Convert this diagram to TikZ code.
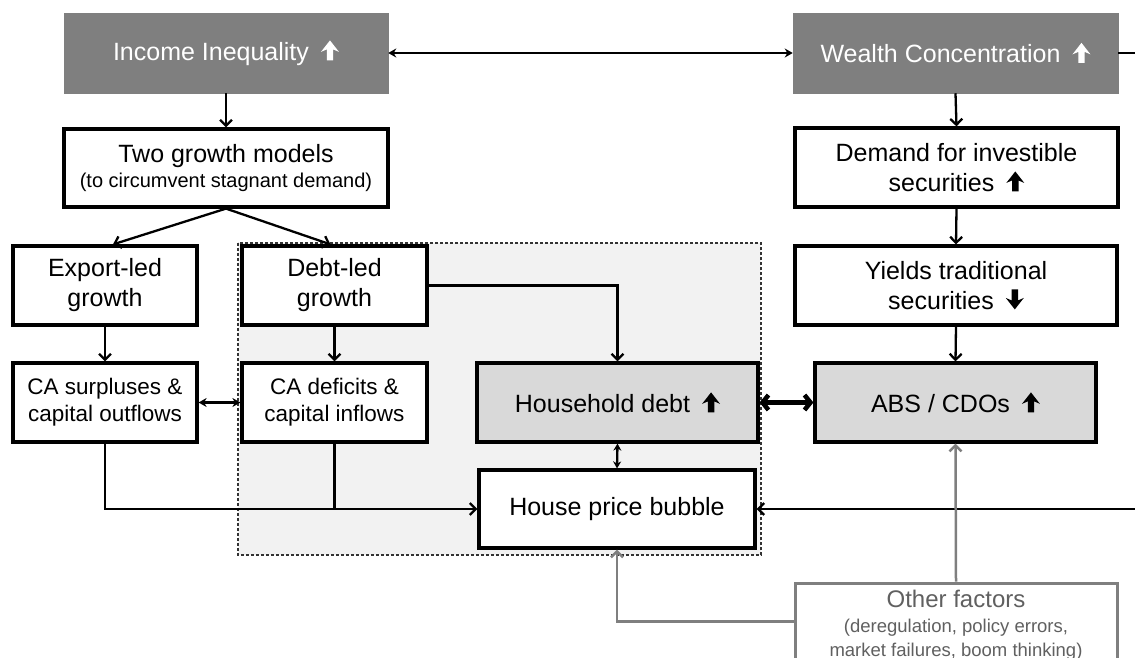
\documentclass[tikz,border=0pt]{standalone}
\usepackage{fontspec}
\setmainfont{Liberation Sans}
\usetikzlibrary{arrows.meta,calc}
\definecolor{darkbox}{HTML}{7F7F7F}
\definecolor{lightbox}{HTML}{D9D9D9}
\definecolor{panel}{HTML}{F2F2F2}
\definecolor{othgray}{HTML}{7F7F7F}
\definecolor{othtext}{HTML}{606060}
\newcommand\upicon[1]{\hspace{12pt}\tikz[baseline=-2pt,x=1pt,y=1pt]\fill[#1] (-3.2,-2) -- (-3.2,9) -- (-9,6.5) -- (0,18) -- (9,6.5) -- (3.2,9) -- (3.2,-2) -- cycle;}
\newcommand\downicon[1]{\hspace{12pt}\tikz[baseline=-2pt,x=1pt,y=1pt]\fill[#1] (-3.2,18) -- (-3.2,7) -- (-9,9.5) -- (0,-2) -- (9,9.5) -- (3.2,7) -- (3.2,18) -- cycle;}
\begin{document}
\begin{tikzpicture}[x=1pt,y=-1pt,
  box/.style={draw=black, line width=3.2pt, fill=white, align=center, inner sep=2pt,
    font=\fontsize{25}{30}\selectfont},
  topbox/.style={box, draw=darkbox, fill=darkbox, text=white, line width=0.5pt,
    minimum width=324pt, minimum height=80pt},
  greybox/.style={box, fill=lightbox},
  othbox/.style={draw=othgray, line width=3pt, fill=white},
  arr/.style={line width=2.3pt, -{Straight Barb[length=6pt,width=12pt,line width=2.3pt]}},
  line/.style={line width=2.3pt},
  darr/.style={line width=2.3pt, {Stealth[length=8pt,width=9pt]}-{Stealth[length=8pt,width=9pt]}},
  bigdarr/.style={line width=4.5pt, {Straight Barb[length=6pt,width=15pt,line width=4.5pt]}-{Straight Barb[length=6pt,width=15pt,line width=4.5pt]}},
  garr/.style={draw=othgray, line width=2.5pt, -{Straight Barb[length=6pt,width=12pt,line width=2.5pt]}}]
\useasboundingbox (0,0) rectangle (1135,658);
% shaded panel
\draw[dash pattern=on 3pt off 2pt, draw=black!80, line width=1.3pt, fill=panel] (238,243) rectangle (761,555);
% top row
\node[topbox] (inc) at (226,53) {Income Inequality\upicon{white}};
\node[topbox, minimum width=325pt] (wea) at (955.5,53) {Wealth Concentration\upicon{white}};
% second row
\node[box, minimum width=324pt, minimum height=78pt] (two) at (226,168)
  {Two growth models\\[-5pt]{\fontsize{20}{24}\selectfont (to circumvent stagnant demand)}};
\node[box, minimum width=323pt, minimum height=79pt] (dem) at (956.5,167.5)
  {Demand for investible\\securities\upicon{black}};
% third row
\node[box, minimum width=184pt, minimum height=79pt] (exp) at (105,285.5) {Export-led\\growth};
\node[box, minimum width=185pt, minimum height=79pt] (dbt) at (334.5,285.5) {Debt-led\\growth};
\node[box, minimum width=322pt, minimum height=79pt] (yld) at (956,285.5) {Yields traditional\\securities\downicon{black}};
% fourth row
\node[box, minimum width=184pt, minimum height=79pt, font=\fontsize{22.5}{27}\selectfont] (cas) at (105,402.5) {CA surpluses \&\\capital outflows};
\node[box, minimum width=185pt, minimum height=79pt, font=\fontsize{22.5}{27}\selectfont] (cad) at (334.5,402.5) {CA deficits \&\\capital inflows};
\node[greybox, minimum width=281pt, minimum height=79pt] (hh) at (617.5,402.5) {Household debt\upicon{black}};
\node[greybox, minimum width=281pt, minimum height=79pt] (abs) at (955.5,402.5) {ABS / CDOs\upicon{black}};
% fifth row
\node[box, minimum width=276pt, minimum height=78pt] (hpb) at (617,509) {House price bubble};
% other factors
\node[othbox, minimum width=322pt, minimum height=130pt] (oth) at (956,648) {};
\node[anchor=north, align=center, text=othtext, inner sep=0pt, font=\fontsize{24}{28}\selectfont] (othlabel) at (956,590)
  {Other factors\\[-3pt]{\fontsize{18.5}{22}\selectfont (deregulation, policy errors,}\\[-4pt]{\fontsize{18.5}{22}\selectfont market failures, boom thinking)}};
\coordinate (othW) at ($(oth.north west)+(0,40)$);
\coordinate (wedge) at (1135,53);
\coordinate (redge) at (1135,509);
% connectors
\draw[darr] (inc.east) -- (wea.west);
\draw[line] (wea.east) -- (wedge);
\draw[arr] (inc.south) -- (two.north);
\draw[arr] (wea.south) -- (dem.north);
\draw[arr] (dem.south) -- (yld.north);
\draw[arr] (yld.south) -- (abs.north);
\draw[arr] (two.south) -- ($(exp.north)+(8,0)$);
\draw[arr] (two.south) -- ($(dbt.north)+(-4,0)$);
\draw[arr] (exp.south) -- (cas.north);
\draw[arr] (dbt.south) -- (cad.north);
\draw[arr] (dbt.east) -| (hh.north);
\draw[darr] (cas.east) -- (cad.west);
\draw[arr] (cas.south) |- (hpb.west);
\draw[line] (cad.south) -- (cad.south |- hpb.west);
\draw[darr, {Stealth[length=7pt,width=8pt]}-{Stealth[length=7pt,width=8pt]}] (hh.south) -- (hpb.north);
\draw[bigdarr] (hh.east) -- (abs.west);
\draw[arr] (redge) -- (hpb.east);
\draw[garr] (oth.north) -- (abs.south);
\draw[garr] (othW) -| (hpb.south);
\end{tikzpicture}
\end{document}
